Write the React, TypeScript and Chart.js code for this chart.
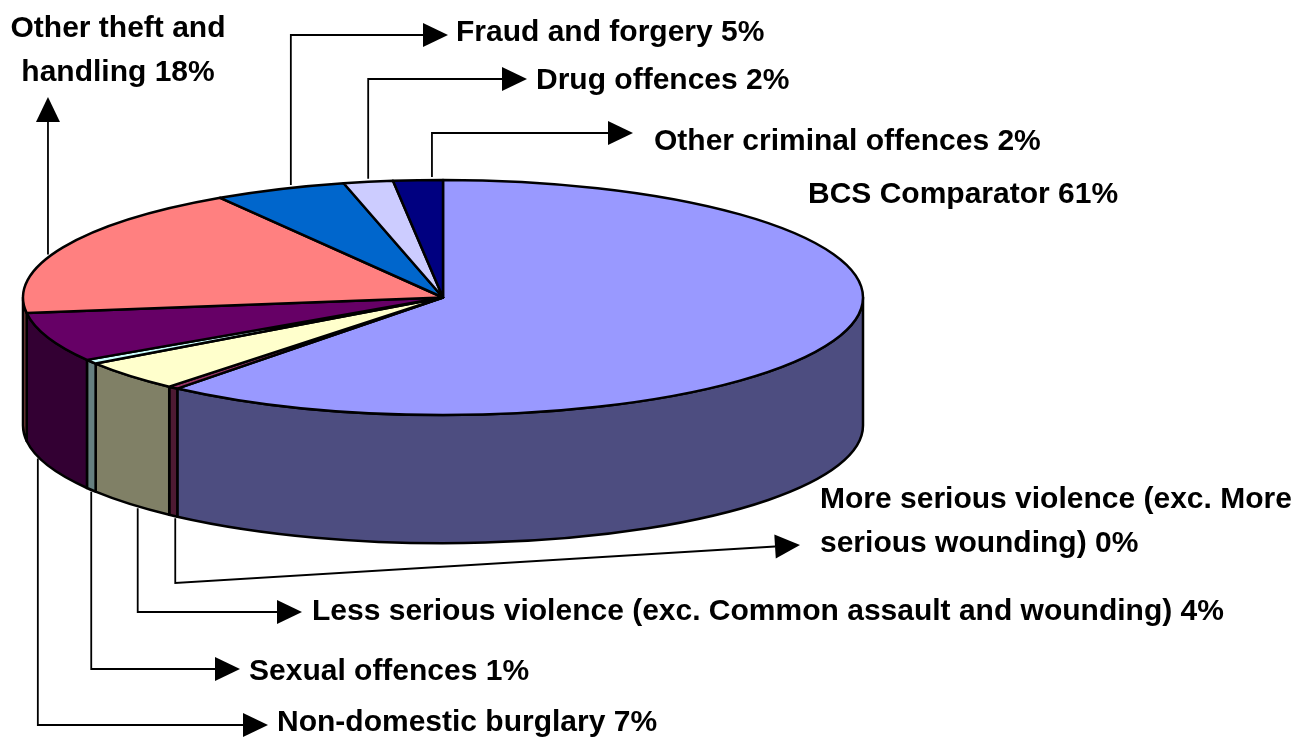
import React, { useEffect, useRef } from "react";
import { Chart, registerables } from "chart.js";

Chart.register(...registerables);

// ---- data ----
const categories = [
  "BCS Comparator",
  "More serious violence (exc. More serious wounding)",
  "Less serious violence (exc. Common assault and wounding)",
  "Sexual offences",
  "Non-domestic burglary",
  "Other theft and handling",
  "Fraud and forgery",
  "Drug offences",
  "Other criminal offences",
];
const shares = [60.9, 0.4, 4.2, 0.6, 6.8, 18.2, 5.1, 1.9, 1.9];
const topColors = ["#9999FF", "#993366", "#FFFFCC", "#CCFFFF", "#660066", "#FF8080", "#0066CC", "#CCCCFF", "#000080"];
const sideColors = ["#4D4D80", "#4D1A33", "#808066", "#668080", "#330033", "#804040", "#003366", "#666680", "#000040"];

// ---- layout / style ----
const TILT = 0.28; // vertical squash of the top face
const DEPTH = 0.305; // wall height relative to radius
const FONT = 'bold 30px "Liberation Sans", Arial, sans-serif';
const LINE_H = 43.5;

type Leader = { from: "top" | "bottom"; dx: number; elbowY: number; tipX: number | null; tipY: number };
type LabelPos = { x: number; y: number; align: CanvasTextAlign; wrap: number; leader: Leader | null };

const labelLayout: LabelPos[] = [
  { x: 808, y: 203, align: "left", wrap: 1000, leader: null },
  { x: 820, y: 508, align: "left", wrap: 490, leader: { from: "bottom", dx: 2, elbowY: 583, tipX: 800, tipY: 545 } },
  { x: 312, y: 620, align: "left", wrap: 1000, leader: { from: "bottom", dx: 8, elbowY: 612, tipX: 302, tipY: 612 } },
  { x: 249, y: 680, align: "left", wrap: 1000, leader: { from: "bottom", dx: 0, elbowY: 669, tipX: 240, tipY: 669 } },
  { x: 277, y: 731, align: "left", wrap: 1000, leader: { from: "bottom", dx: -10, elbowY: 725, tipX: 268, tipY: 725 } },
  { x: 118, y: 37, align: "center", wrap: 235, leader: { from: "top", dx: -15, elbowY: 97, tipX: null, tipY: 97 } },
  { x: 456, y: 41, align: "left", wrap: 1000, leader: { from: "top", dx: 11, elbowY: 35, tipX: 448, tipY: 35 } },
  { x: 536, y: 89, align: "left", wrap: 1000, leader: { from: "top", dx: 0, elbowY: 79, tipX: 527, tipY: 79 } },
  { x: 654, y: 150, align: "left", wrap: 1000, leader: { from: "top", dx: 14, elbowY: 133, tipX: 633, tipY: 133 } },
];

function wrapText(ctx: CanvasRenderingContext2D, text: string, maxW: number): string[] {
  const words = text.split(" ");
  const lines: string[] = [];
  let cur = "";
  for (const w of words) {
    const t = cur ? cur + " " + w : w;
    if (ctx.measureText(t).width > maxW && cur) {
      lines.push(cur);
      cur = w;
    } else cur = t;
  }
  if (cur) lines.push(cur);
  return lines;
}

function geometry(chart: any) {
  const arcs = chart.getDatasetMeta(0).data as any[];
  const a0 = arcs[0];
  const rx = a0.outerRadius;
  return { arcs, cx: a0.x, cy: a0.y, rx, ry: rx * TILT, d: rx * DEPTH };
}

const pie3d = {
  id: "pie3d",
  beforeDatasetsDraw(chart: any) {
    const { arcs, cx, cy, rx, ry, d } = geometry(chart);
    const ctx: CanvasRenderingContext2D = chart.ctx;
    ctx.save();
    ctx.lineWidth = 2.5;
    ctx.strokeStyle = "#000";
    ctx.lineJoin = "round";
    // side walls (front half only: canvas angles 0..PI)
    arcs.forEach((arc: any, i: number) => {
      const s = Math.max(arc.startAngle, 0);
      const e = Math.min(arc.endAngle, Math.PI);
      if (e <= s) return;
      ctx.beginPath();
      ctx.ellipse(cx, cy, rx, ry, 0, s, e);
      ctx.ellipse(cx, cy + d, rx, ry, 0, e, s, true);
      ctx.closePath();
      ctx.fillStyle = sideColors[i];
      ctx.fill();
      ctx.stroke();
    });
    // top face
    arcs.forEach((arc: any, i: number) => {
      ctx.beginPath();
      ctx.moveTo(cx, cy);
      ctx.ellipse(cx, cy, rx, ry, 0, arc.startAngle, arc.endAngle);
      ctx.closePath();
      ctx.fillStyle = topColors[i];
      ctx.fill();
      ctx.stroke();
    });
    ctx.restore();
    return false;
  },
  afterDraw(chart: any) {
    const { arcs, cx, cy, rx, ry, d } = geometry(chart);
    const ctx: CanvasRenderingContext2D = chart.ctx;
    ctx.save();
    ctx.font = FONT;
    ctx.fillStyle = "#000";
    ctx.strokeStyle = "#000";
    ctx.lineWidth = 1.8;
    arcs.forEach((arc: any, i: number) => {
      const lay = labelLayout[i];
      const ld = lay.leader;
      if (ld) {
        const mid = (arc.startAngle + arc.endAngle) / 2;
        const ax = cx + rx * Math.cos(mid) + ld.dx;
        const u = Math.min(1, Math.abs((ax - cx) / rx));
        const h = ry * Math.sqrt(1 - u * u);
        const ay = ld.from === "top" ? cy - h - 3 : cy + d + h + 2;
        const tipX = ld.tipX === null ? ax : ld.tipX;
        const pts: [number, number][] = [[ax, ay], [ax, ld.elbowY]];
        if (tipX !== ax || ld.tipY !== ld.elbowY) pts.push([tipX, ld.tipY]);
        const n = pts.length;
        const [px, py] = pts[n - 2];
        const [tx, ty] = pts[n - 1];
        const ang = Math.atan2(ty - py, tx - px);
        const L = 25, W = 12;
        const bx = tx - L * Math.cos(ang), by = ty - L * Math.sin(ang);
        ctx.beginPath();
        ctx.moveTo(pts[0][0], pts[0][1]);
        for (let k = 1; k < n - 1; k++) ctx.lineTo(pts[k][0], pts[k][1]);
        ctx.lineTo(bx, by);
        ctx.stroke();
        ctx.beginPath();
        ctx.moveTo(tx, ty);
        ctx.lineTo(bx + W * Math.sin(ang), by - W * Math.cos(ang));
        ctx.lineTo(bx - W * Math.sin(ang), by + W * Math.cos(ang));
        ctx.closePath();
        ctx.fill();
      }
      const text = `${chart.data.labels[i]} ${Math.round(chart.data.datasets[0].data[i])}%`;
      const lines = wrapText(ctx, text, lay.wrap);
      ctx.textAlign = lay.align;
      ctx.textBaseline = "alphabetic";
      lines.forEach((ln, k) => ctx.fillText(ln, lay.x, lay.y + k * LINE_H));
    });
    ctx.restore();
  },
};

export default function App() {
  const ref = useRef<HTMLCanvasElement>(null);
  useEffect(() => {
    if (!ref.current) return;
    const chart = new Chart(ref.current, {
      type: "pie",
      data: {
        labels: categories,
        datasets: [{ data: shares, backgroundColor: topColors, borderWidth: 0 }],
      },
      options: {
        animation: false,
        responsive: true,
        maintainAspectRatio: false,
        events: [],
        radius: 420,
        layout: { padding: { left: 23, right: 445, top: 180, bottom: 323 } },
        plugins: { legend: { display: false }, tooltip: { enabled: false } },
      } as any,
      plugins: [pie3d],
    });
    return () => chart.destroy();
  }, []);
  return (
    <div style={{ position: "fixed", left: 0, top: 0, width: 1308, height: 738, background: "#fff" }}>
      <canvas ref={ref} />
    </div>
  );
}
